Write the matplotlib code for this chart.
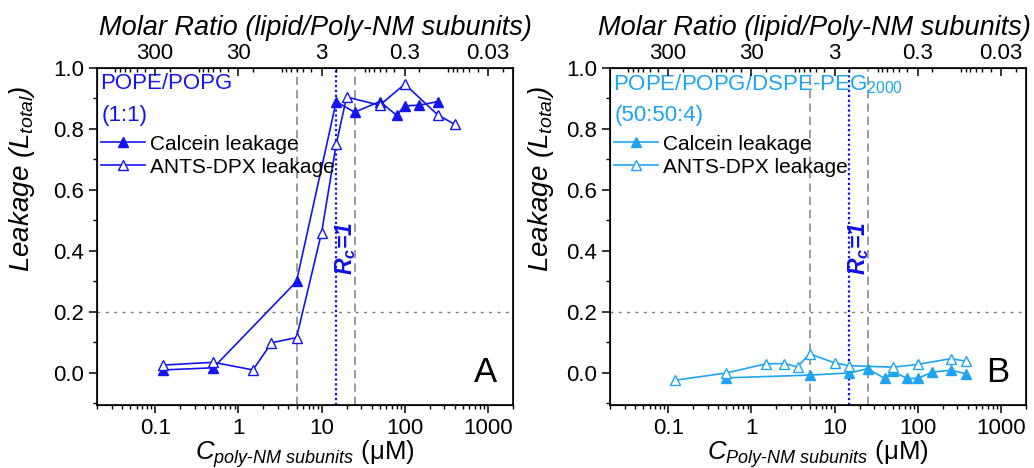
import numpy as np
import matplotlib.pyplot as plt
from matplotlib.ticker import FixedLocator, LogLocator, NullFormatter, MultipleLocator

plt.rcParams['font.family'] = ['Liberation Sans', 'DejaVu Sans']
plt.rcParams['mathtext.fontset'] = 'custom'
plt.rcParams['mathtext.rm'] = 'Liberation Sans'
plt.rcParams['mathtext.it'] = 'Liberation Sans:italic'
plt.rcParams['mathtext.bf'] = 'Liberation Sans:bold'
plt.rcParams['mathtext.bfit'] = 'Liberation Sans:italic:bold'

# =========================
# data (C in uM, leakage)
# =========================
# panel A : POPE/POPG (1:1)
a_calcein_c = [0.125, 0.5, 5, 15, 25, 50, 80, 100, 150, 250]
a_calcein_l = [0.010, 0.017, 0.30, 0.89, 0.855, 0.89, 0.845, 0.876, 0.878, 0.89]
a_ants_c = [0.125, 0.5, 1.5, 2.5, 5, 10, 15, 20, 50, 100, 250, 400]
a_ants_l = [0.026, 0.035, 0.010, 0.099, 0.116, 0.46, 0.75, 0.905, 0.878, 0.947, 0.846, 0.815]

# panel B : POPE/POPG/DSPE-PEG2000 (50:50:4)
b_calcein_c = [0.5, 5, 15, 25, 40, 50, 75, 100, 150, 250, 375]
b_calcein_l = [-0.016, -0.007, 0.0, 0.014, -0.018, 0.005, -0.018, -0.018, 0.003, 0.009, -0.002]
b_ants_c = [0.12, 0.5, 1.5, 2.5, 3.6, 5, 10, 15, 50, 100, 250, 375]
b_ants_l = [-0.024, 0.0, 0.03, 0.031, 0.02, 0.063, 0.033, 0.024, 0.019, 0.028, 0.047, 0.039]

ratio_ticks = [300, 30, 3, 0.3, 0.03]
ratio_labels = ["300", "30", "3", "0.3", "0.03"]
gray_lines = [5, 25]
rc_line = 15

# =========================
# style
# =========================
blue_a = "#1414F0"
blue_b = "#1EA4F0"
rc_blue = "#1010E8"

panels = [
    dict(left=97, cal_c=a_calcein_c, cal_l=a_calcein_l, ants_c=a_ants_c, ants_l=a_ants_l,
         color=blue_a, name="POPE/POPG", ratio="(1:1)", letter="A",
         xlabel=r"$C_{poly\text{-}NM\ subunits}$ (μM)", top_x=0.524, ylab_x=-0.145),
    dict(left=610, cal_c=b_calcein_c, cal_l=b_calcein_l, ants_c=b_ants_c, ants_l=b_ants_l,
         color=blue_b, name=r"POPE/POPG/DSPE-PEG$_{\mathregular{2000}}$", ratio="(50:50:4)", letter="B",
         xlabel=r"$C_{Poly\text{-}NM\ subunits}$ (μM)", top_x=0.492, ylab_x=-0.13),
]

W, H = 1034, 468
fig = plt.figure(figsize=(W / 100, H / 100), dpi=100)

for p in panels:
    ax = fig.add_axes([p["left"] / W, 1 - 405 / H, 416 / W, 337 / H])
    c = p["color"]

    # reference lines
    for xv in gray_lines:
        ax.axvline(xv, color="#8a8a8a", lw=1.2, linestyle=(0, (5, 3)), zorder=1)
    ax.axvline(rc_line, color=rc_blue, lw=1.6, linestyle=(0, (1, 1.2)), zorder=1)
    ax.axhline(0.2, color="#777777", lw=1.0, linestyle=(0, (2, 4)), zorder=1)

    ax.plot(p["cal_c"], p["cal_l"], color=c, lw=1.2, marker="^", ms=6.5,
            mfc=c, mec=c, label="Calcein leakage", zorder=3)
    ax.plot(p["ants_c"], p["ants_l"], color=c, lw=1.2, marker="^", ms=6.5,
            mfc="white", mec=c, mew=1.0, label="ANTS-DPX leakage", zorder=3)

    ax.set_xscale("log")
    ax.set_xlim(0.02, 2000)
    ax.set_ylim(-0.105, 1.0)
    ax.xaxis.set_major_locator(FixedLocator([0.1, 1, 10, 100, 1000]))
    ax.set_xticklabels(["0.1", "1", "10", "100", "1000"])
    ax.xaxis.set_minor_locator(LogLocator(subs=np.arange(2, 10)))
    ax.xaxis.set_minor_formatter(NullFormatter())
    ax.yaxis.set_minor_locator(MultipleLocator(0.1))
    ax.set_yticks([0.0, 0.2, 0.4, 0.6, 0.8, 1.0])
    ax.set_yticklabels(["0.0", "0.2", "0.4", "0.6", "0.8", "1.0"])
    ax.tick_params(axis="both", which="major", direction="out", length=6, width=1.1,
                   labelsize=16, pad=3.5)
    ax.tick_params(axis="both", which="minor", direction="out", length=3, width=1.0)
    ax.tick_params(axis="y", right=False)
    for s in ax.spines.values():
        s.set_linewidth(1.2)

    ax.set_xlabel(p["xlabel"], fontsize=18.5, labelpad=-1)
    ax.set_ylabel(r"Leakage ($L_{total}$)", fontsize=20, style="italic")
    ax.yaxis.set_label_coords(p["ylab_x"], 0.67)

    # top axis : molar ratio
    top = ax.twiny()
    top.set_xscale("log")
    top.set_xlim(30 / 0.02, 30 / 2000)
    top.xaxis.set_major_locator(FixedLocator(ratio_ticks))
    top.set_xticklabels(ratio_labels)
    top.xaxis.set_minor_locator(LogLocator(subs=np.arange(2, 10)))
    top.xaxis.set_minor_formatter(NullFormatter())
    top.tick_params(axis="x", which="major", direction="in", length=6, width=1.1,
                    labelsize=16, pad=3)
    top.tick_params(axis="x", which="minor", direction="in", length=3, width=1.0)
    top.set_xlabel("Molar Ratio (lipid/Poly-NM subunits)", fontsize=19.5,
                   style="italic")
    top.xaxis.set_label_coords(p["top_x"], 1.08)
    top.xaxis.label.set_va("bottom")

    # annotations
    ax.text(0.007, 0.953, p["name"], transform=ax.transAxes, color=c,
            fontsize=16, ha="left", va="center")
    ax.text(0.012, 0.86, p["ratio"], transform=ax.transAxes, color=c,
            fontsize=16, ha="left", va="center")
    ax.text(19.5, 0.41, r"$\mathbfit{R}_{\mathbfit{c}}$=1", color=rc_blue, fontsize=16.5,
            fontweight="bold", style="italic", rotation=90, ha="center", va="center")
    ax.text(0.933, 0.095, p["letter"], transform=ax.transAxes, fontsize=25,
            ha="center", va="center")

    ax.legend(loc="upper left", bbox_to_anchor=(0.0, 0.815), frameon=False,
              fontsize=15, handlelength=2.1, handletextpad=0.25,
              labelspacing=0.2, borderpad=0.2, borderaxespad=0)

plt.savefig("out.png", dpi=100)
